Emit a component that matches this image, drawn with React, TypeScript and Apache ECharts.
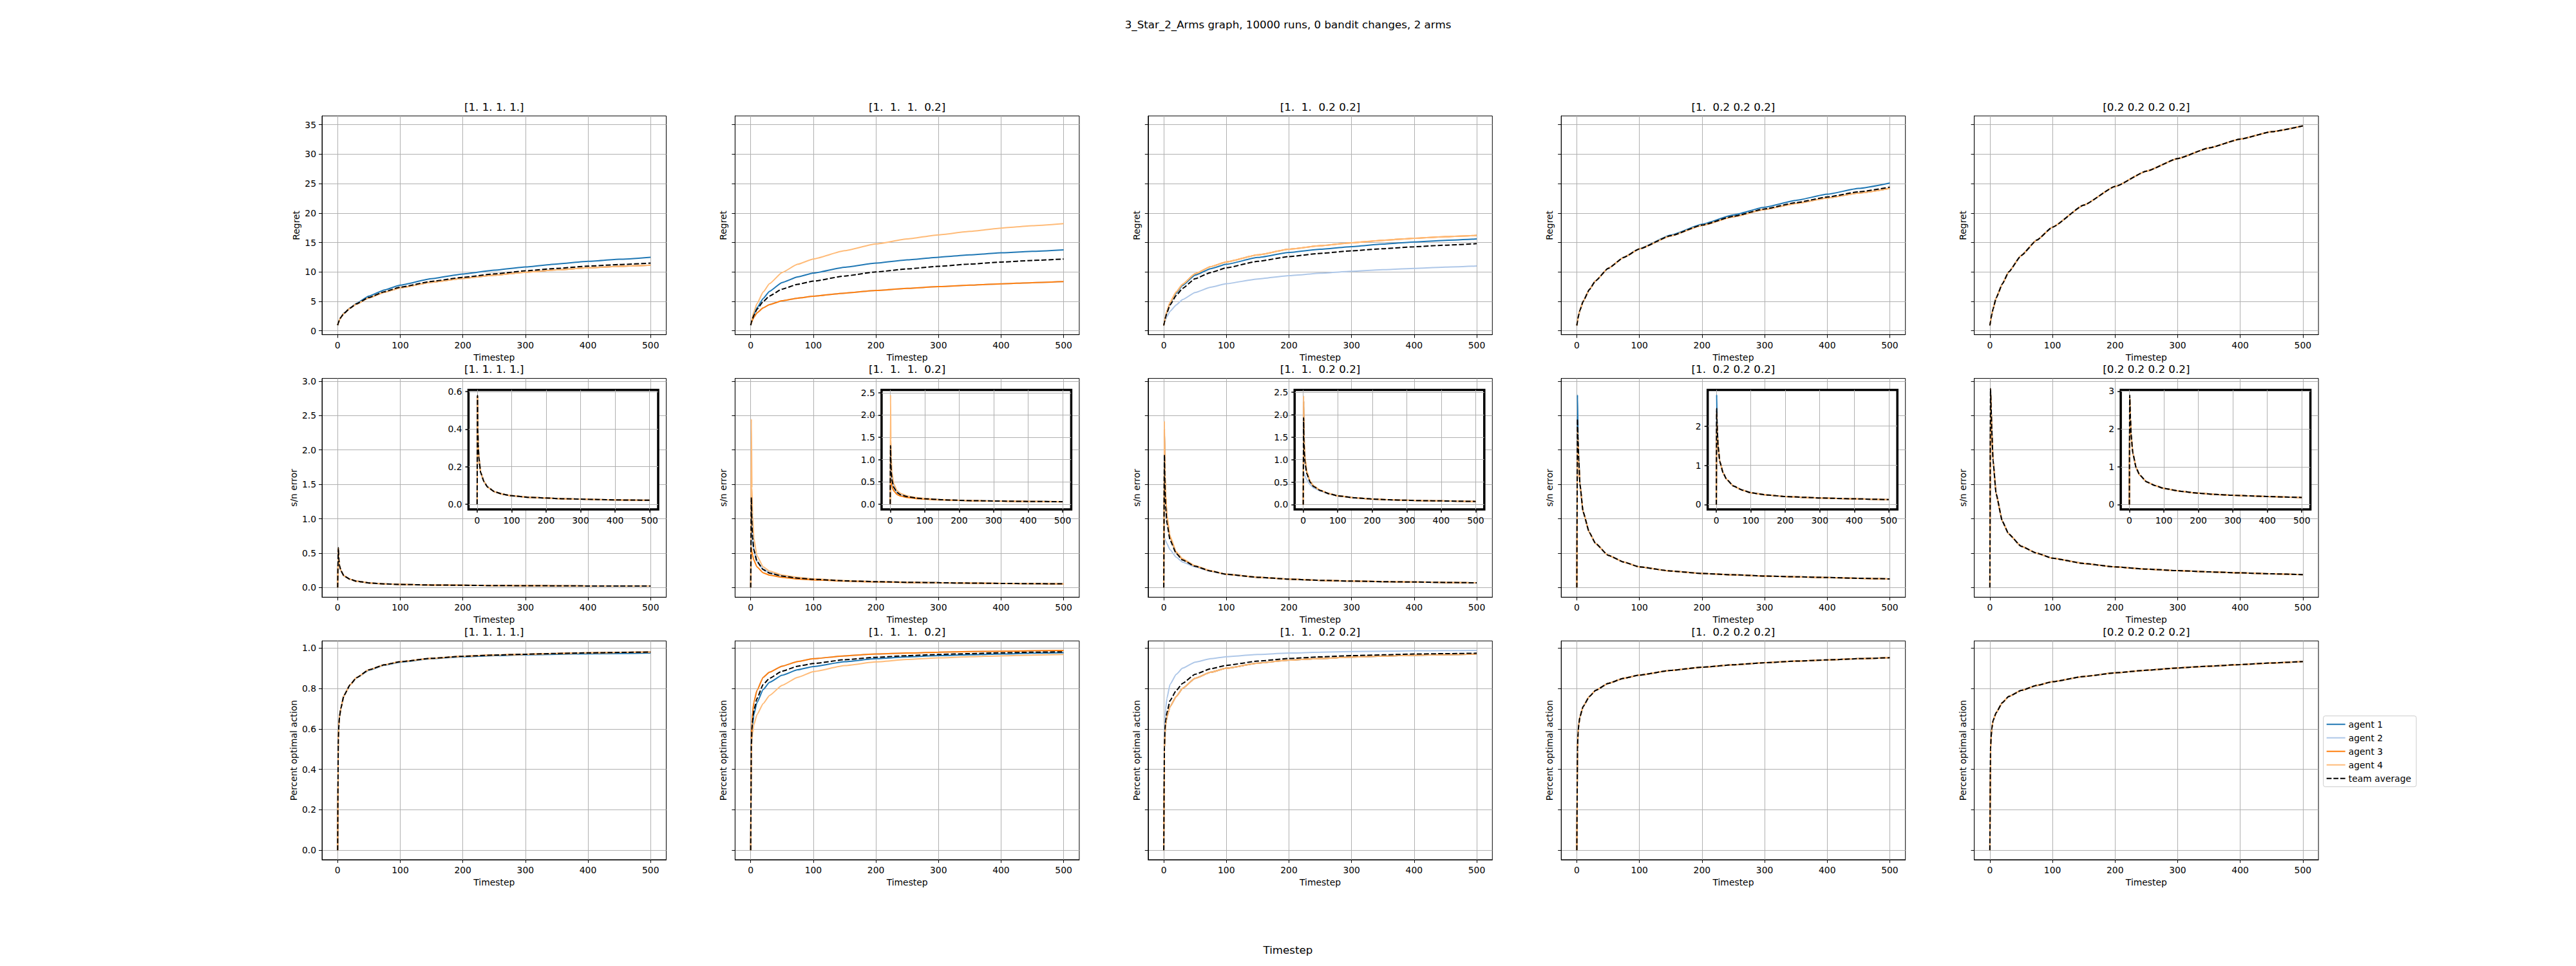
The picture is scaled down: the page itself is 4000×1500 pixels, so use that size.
import React, { useEffect, useRef } from 'react';
import * as echarts from 'echarts';

const FONT = 'DejaVu Sans';

// ---------- data ----------
const T = [0, 1, 2, 3, 5, 10, 20, 30, 50, 75, 100, 150, 200, 250, 300, 350, 400, 450, 500];
const X_TICKS = [0, 100, 200, 300, 400, 500];

const COL_TITLES = ['[1. 1. 1. 1.]', '[1.  1.  1.  0.2]', '[1.  1.  0.2 0.2]', '[1.  0.2 0.2 0.2]', '[0.2 0.2 0.2 0.2]'];
const SERIES_NAMES = ['agent 1', 'agent 2', 'agent 3', 'agent 4', 'team average'];
const ROW_YLABELS = ['Regret', 's/n error', 'Percent optimal action'];

// Row 1: Regret
const REG_C1_A1 = [0.95, 1.3, 1.6, 1.9, 2.3, 3.0, 3.9, 4.65, 5.9, 6.95, 7.75, 8.85, 9.65, 10.3, 10.85, 11.35, 11.8, 12.15, 12.5];
const REG_C1_LEAF = [0.95, 1.3, 1.6, 1.85, 2.25, 2.95, 3.85, 4.55, 5.6, 6.55, 7.3, 8.25, 8.9, 9.45, 9.95, 10.35, 10.7, 10.95, 11.15];
const REG_C1_AVG = [0.95, 1.3, 1.6, 1.86, 2.26, 2.96, 3.86, 4.58, 5.67, 6.65, 7.41, 8.4, 9.08, 9.66, 10.18, 10.6, 10.98, 11.25, 11.5];

const REG_C2_A1 = [0.95, 1.4, 1.8, 2.15, 2.75, 3.9, 5.5, 6.7, 8.2, 9.15, 9.8, 10.8, 11.5, 12.05, 12.5, 12.9, 13.25, 13.5, 13.75];
const REG_C2_A23 = [0.95, 1.3, 1.6, 1.85, 2.3, 3.05, 3.9, 4.45, 5.1, 5.55, 5.87, 6.4, 6.85, 7.2, 7.5, 7.75, 7.98, 8.18, 8.35];
const REG_C2_A4 = [0.95, 1.5, 2.0, 2.45, 3.2, 4.6, 6.6, 8.0, 9.9, 11.3, 12.2, 13.6, 14.75, 15.6, 16.3, 16.9, 17.45, 17.85, 18.2];
const REG_C2_AVG = [0.95, 1.38, 1.75, 2.08, 2.64, 3.65, 4.98, 5.9, 7.08, 7.9, 8.43, 9.3, 10.0, 10.51, 10.95, 11.33, 11.67, 11.95, 12.2];

const REG_C3_A1 = [0.9, 1.5, 2.0, 2.45, 3.2, 4.7, 6.4, 7.7, 9.45, 10.55, 11.3, 12.45, 13.3, 13.85, 14.3, 14.72, 15.1, 15.37, 15.6];
const REG_C3_A2 = [0.9, 1.3, 1.65, 1.95, 2.4, 3.3, 4.4, 5.3, 6.5, 7.4, 8.0, 8.8, 9.37, 9.77, 10.1, 10.37, 10.6, 10.82, 11.0];
const REG_C3_A34 = [0.9, 1.5, 2.0, 2.5, 3.3, 4.8, 6.6, 7.9, 9.7, 10.9, 11.7, 12.9, 13.85, 14.45, 14.95, 15.37, 15.72, 15.98, 16.2];
const REG_C3_AVG = [0.9, 1.45, 1.9, 2.35, 3.05, 4.4, 6.0, 7.2, 8.85, 9.9, 10.7, 11.8, 12.6, 13.15, 13.58, 13.95, 14.27, 14.55, 14.8];

const REG_C4_A1 = [0.9, 1.6, 2.2, 2.7, 3.5, 5.0, 7.0, 8.5, 10.6, 12.48, 13.95, 16.25, 18.1, 19.68, 21.0, 22.15, 23.2, 24.18, 25.1];
const REG_C4_REST = [0.9, 1.6, 2.2, 2.7, 3.5, 5.0, 7.0, 8.5, 10.6, 12.47, 13.9, 16.12, 17.9, 19.38, 20.6, 21.63, 22.55, 23.4, 24.2];
const REG_C4_AVG = [0.9, 1.6, 2.2, 2.7, 3.5, 5.0, 7.0, 8.5, 10.6, 12.47, 13.92, 16.15, 17.95, 19.45, 20.7, 21.76, 22.72, 23.6, 24.4];

const REG_C5_ALL = [0.9, 1.6, 2.2, 2.75, 3.69, 5.59, 7.99, 9.99, 12.79, 15.41, 17.61, 21.36, 24.51, 27.11, 29.26, 31.06, 32.56, 33.81, 34.8];

// Row 2: s/n error
const SN_C1_ALL = [0, 0.58, 0.4, 0.32, 0.25, 0.17, 0.12, 0.092, 0.067, 0.053, 0.045, 0.037, 0.033, 0.029, 0.027, 0.025, 0.023, 0.022, 0.021];

const SN_C2_A12 = [0, 1.1, 0.84, 0.69, 0.54, 0.38, 0.265, 0.215, 0.168, 0.138, 0.12, 0.098, 0.085, 0.076, 0.07, 0.065, 0.06, 0.057, 0.054];
const SN_C2_A3 = [0, 0.58, 0.52, 0.47, 0.4, 0.3, 0.215, 0.18, 0.148, 0.125, 0.112, 0.094, 0.082, 0.074, 0.068, 0.063, 0.059, 0.056, 0.053];
const SN_C2_A4 = [0, 2.45, 1.45, 1.05, 0.72, 0.46, 0.3, 0.24, 0.182, 0.148, 0.127, 0.101, 0.087, 0.078, 0.071, 0.066, 0.061, 0.058, 0.055];
const SN_C2_AVG = [0, 1.31, 0.91, 0.73, 0.55, 0.38, 0.26, 0.21, 0.167, 0.137, 0.12, 0.098, 0.085, 0.076, 0.07, 0.065, 0.06, 0.057, 0.054];

const SN_C3_A13 = [0, 2.3, 1.62, 1.33, 1.03, 0.73, 0.51, 0.41, 0.313, 0.242, 0.193, 0.149, 0.122, 0.105, 0.094, 0.086, 0.08, 0.074, 0.068];
const SN_C3_A2 = [0, 0.71, 0.7, 0.68, 0.64, 0.55, 0.44, 0.37, 0.3, 0.235, 0.19, 0.147, 0.121, 0.104, 0.093, 0.085, 0.079, 0.073, 0.067];
const SN_C3_A4 = [0, 2.42, 1.68, 1.37, 1.06, 0.75, 0.52, 0.42, 0.318, 0.245, 0.195, 0.15, 0.123, 0.106, 0.095, 0.087, 0.081, 0.075, 0.069];
const SN_C3_AVG = [0, 1.93, 1.41, 1.18, 0.94, 0.69, 0.495, 0.4, 0.31, 0.24, 0.193, 0.149, 0.122, 0.105, 0.094, 0.086, 0.08, 0.074, 0.068];

const SN_C4_A1 = [0, 2.8, 2.2, 1.9, 1.5, 1.1, 0.8, 0.64, 0.47, 0.37, 0.3, 0.24, 0.205, 0.185, 0.168, 0.156, 0.146, 0.135, 0.125];
const SN_C4_REST = [0, 2.33, 2.1, 1.85, 1.5, 1.1, 0.8, 0.64, 0.47, 0.37, 0.3, 0.24, 0.205, 0.185, 0.168, 0.156, 0.146, 0.135, 0.125];
const SN_C4_AVG = [0, 2.45, 2.12, 1.86, 1.5, 1.1, 0.8, 0.64, 0.47, 0.37, 0.3, 0.24, 0.205, 0.185, 0.168, 0.156, 0.146, 0.135, 0.125];

const SN_C5_ALL = [0, 2.89, 2.6, 2.3, 1.85, 1.36, 0.96, 0.78, 0.6, 0.5, 0.427, 0.35, 0.3, 0.268, 0.246, 0.228, 0.213, 0.2, 0.188];

// Row 3: percent optimal action
const POA_C1_A1 = [0, 0.55, 0.62, 0.66, 0.7, 0.765, 0.818, 0.852, 0.89, 0.915, 0.93, 0.947, 0.957, 0.962, 0.966, 0.969, 0.971, 0.973, 0.975];
const POA_C1_REST = [0, 0.55, 0.62, 0.66, 0.7, 0.765, 0.818, 0.853, 0.892, 0.917, 0.932, 0.949, 0.959, 0.965, 0.969, 0.973, 0.976, 0.978, 0.98];

const POA_C2_A23 = [0, 0.55, 0.63, 0.68, 0.73, 0.79, 0.855, 0.88, 0.91, 0.933, 0.947, 0.961, 0.97, 0.975, 0.979, 0.982, 0.984, 0.986, 0.988];
const POA_C2_A1 = [0, 0.5, 0.58, 0.62, 0.67, 0.73, 0.795, 0.83, 0.865, 0.892, 0.908, 0.932, 0.947, 0.956, 0.962, 0.966, 0.97, 0.974, 0.977];
const POA_C2_A4 = [0, 0.5, 0.55, 0.58, 0.62, 0.67, 0.725, 0.765, 0.815, 0.855, 0.883, 0.913, 0.931, 0.943, 0.951, 0.957, 0.961, 0.965, 0.968];
const POA_C2_AVG = [0, 0.52, 0.6, 0.64, 0.69, 0.75, 0.82, 0.85, 0.885, 0.91, 0.923, 0.942, 0.954, 0.962, 0.968, 0.972, 0.976, 0.979, 0.981];

const POA_C3_A2 = [0, 0.55, 0.65, 0.7, 0.75, 0.82, 0.87, 0.9, 0.93, 0.947, 0.957, 0.968, 0.975, 0.979, 0.982, 0.984, 0.986, 0.987, 0.988];
const POA_C3_REST = [0, 0.5, 0.58, 0.62, 0.66, 0.71, 0.76, 0.8, 0.85, 0.88, 0.9, 0.925, 0.94, 0.948, 0.955, 0.96, 0.964, 0.967, 0.97];
const POA_C3_AVG = [0, 0.51, 0.6, 0.64, 0.68, 0.74, 0.79, 0.825, 0.87, 0.897, 0.914, 0.935, 0.948, 0.956, 0.962, 0.966, 0.97, 0.972, 0.974];

const POA_C4_ALL = [0, 0.5, 0.58, 0.62, 0.66, 0.71, 0.76, 0.79, 0.825, 0.85, 0.866, 0.889, 0.905, 0.917, 0.927, 0.935, 0.941, 0.947, 0.952];
const POA_C5_ALL = [0, 0.5, 0.56, 0.6, 0.64, 0.68, 0.73, 0.76, 0.79, 0.815, 0.833, 0.859, 0.877, 0.89, 0.901, 0.91, 0.918, 0.926, 0.933];

const PANELS: number[][][][] = [
  [
    [REG_C1_A1, REG_C1_LEAF, REG_C1_LEAF, REG_C1_LEAF, REG_C1_AVG],
    [REG_C2_A1, REG_C2_A23, REG_C2_A23, REG_C2_A4, REG_C2_AVG],
    [REG_C3_A1, REG_C3_A2, REG_C3_A34, REG_C3_A34, REG_C3_AVG],
    [REG_C4_A1, REG_C4_REST, REG_C4_REST, REG_C4_REST, REG_C4_AVG],
    [REG_C5_ALL, REG_C5_ALL, REG_C5_ALL, REG_C5_ALL, REG_C5_ALL],
  ],
  [
    [SN_C1_ALL, SN_C1_ALL, SN_C1_ALL, SN_C1_ALL, SN_C1_ALL],
    [SN_C2_A12, SN_C2_A12, SN_C2_A3, SN_C2_A4, SN_C2_AVG],
    [SN_C3_A13, SN_C3_A2, SN_C3_A13, SN_C3_A4, SN_C3_AVG],
    [SN_C4_A1, SN_C4_REST, SN_C4_REST, SN_C4_REST, SN_C4_AVG],
    [SN_C5_ALL, SN_C5_ALL, SN_C5_ALL, SN_C5_ALL, SN_C5_ALL],
  ],
  [
    [POA_C1_A1, POA_C1_REST, POA_C1_REST, POA_C1_REST, POA_C1_REST],
    [POA_C2_A1, POA_C2_A23, POA_C2_A23, POA_C2_A4, POA_C2_AVG],
    [POA_C3_REST, POA_C3_A2, POA_C3_REST, POA_C3_REST, POA_C3_AVG],
    [POA_C4_ALL, POA_C4_ALL, POA_C4_ALL, POA_C4_ALL, POA_C4_ALL],
    [POA_C5_ALL, POA_C5_ALL, POA_C5_ALL, POA_C5_ALL, POA_C5_ALL],
  ],
];

const ROW_Y_TICKS = [
  [0, 5, 10, 15, 20, 25, 30, 35],
  [0, 0.5, 1.0, 1.5, 2.0, 2.5, 3.0],
  [0, 0.2, 0.4, 0.6, 0.8, 1.0],
];
const ROW_Y_RANGE = [
  [-0.66, 36.5],
  [-0.14, 3.04],
  [-0.047, 1.035],
];
const ROW_Y_DECIMALS = [0, 1, 1];

const INSET_Y_TICKS = [
  [0, 0.2, 0.4, 0.6],
  [0, 0.5, 1.0, 1.5, 2.0, 2.5],
  [0, 0.5, 1.0, 1.5, 2.0, 2.5],
  [0, 1, 2],
  [0, 1, 2, 3],
];
const INSET_Y_RANGE = [
  [-0.028, 0.609],
  [-0.12, 2.56],
  [-0.11, 2.55],
  [-0.126, 2.92],
  [-0.13, 3.03],
];
const INSET_Y_DECIMALS = [1, 1, 1, 0, 0];

// ---------- styling / layout ----------
const COLORS = ['#1f77b4', '#aec7e8', '#ff7f0e', '#ffbb78', '#000000'];
const COL_LEFT0 = 500;
const COL_STEP = 641.4;
const AX_W = 534.5;
const ROW_TOP0 = 180;
const ROW_STEP = 407.6;
const AX_H = 339.7;
const INSET_DX = 227.5;
const INSET_DY = 18;
const INSET_W = 294.5;
const INSET_H = 185.5;

const DASH_ICON = 'path://M0,0h8v2h-8z M11,0h8v2h-8z M22,0h8v2h-8z';

function buildOption() {
  const grid: any[] = [];
  const xAxis: any[] = [];
  const yAxis: any[] = [];
  const series: any[] = [];
  const graphic: any[] = [];
  const tickFont = { color: '#000', fontSize: 13.9, fontFamily: FONT };

  const mkSeries = (data: number[], k: number, axisIdx: number, z: number) => ({
    type: 'line',
    name: SERIES_NAMES[k],
    xAxisIndex: axisIdx,
    yAxisIndex: axisIdx,
    data: T.map((t, i) => [t, data[i]]),
    showSymbol: false,
    symbol: 'none',
    smooth: 0.15,
    smoothMonotone: 'x',
    z,
    silent: true,
    color: COLORS[k],
    lineStyle: {
      color: COLORS[k],
      width: 2,
      type: k === 4 ? [7.7, 3.3] : 'solid',
    },
    itemStyle: { color: COLORS[k] },
  });

  for (let r = 0; r < 3; r++) {
    for (let c = 0; c < 5; c++) {
      const idx = r * 5 + c;
      const left = COL_LEFT0 + COL_STEP * c;
      const top = ROW_TOP0 + ROW_STEP * r;
      grid.push({
        left, top, width: AX_W, height: AX_H,
        show: true, borderColor: '#000', borderWidth: 1, backgroundColor: '#fff',
        containLabel: false, outerBoundsMode: 'none', z: 0,
      });
      xAxis.push({
        type: 'value', gridIndex: idx, min: -25, max: 525,
        axisLine: { show: true, onZero: false, lineStyle: { color: '#000', width: 1 } },
        axisTick: { show: true, length: 5, customValues: X_TICKS, lineStyle: { color: '#000', width: 1 } },
        axisLabel: { show: true, customValues: X_TICKS, margin: 9, ...tickFont },
        splitLine: { show: true, lineStyle: { color: '#b0b0b0', width: 1 } },
        name: 'Timestep', nameLocation: 'middle', nameGap: 28,
        nameTextStyle: { color: '#000', fontSize: 13.9, fontFamily: FONT },
      });
      const dec = ROW_Y_DECIMALS[r];
      yAxis.push({
        type: 'value', gridIndex: idx, min: ROW_Y_RANGE[r][0], max: ROW_Y_RANGE[r][1],
        axisLine: { show: true, onZero: false, lineStyle: { color: '#000', width: 1 } },
        axisTick: { show: true, length: 5, customValues: ROW_Y_TICKS[r], lineStyle: { color: '#000', width: 1 } },
        axisLabel: {
          show: c === 0, customValues: ROW_Y_TICKS[r], margin: 9, ...tickFont,
          formatter: (v: number) => v.toFixed(dec),
        },
        splitLine: { show: true, lineStyle: { color: '#b0b0b0', width: 1 } },
        name: ROW_YLABELS[r], nameLocation: 'middle', nameRotate: 90,
        nameGap: c === 0 ? (r === 0 ? 33 : 37) : 11,
        nameTextStyle: { color: '#000', fontSize: 13.9, fontFamily: FONT },
      });
      const panel = PANELS[r][c];
      for (let k = 0; k < 5; k++) series.push(mkSeries(panel[k], k, idx, 2));

      graphic.push({
        type: 'text', x: left + AX_W / 2, y: top - 14.3, silent: true,
        style: {
          text: COL_TITLES[c], fill: '#000', fontSize: 16.7, fontFamily: FONT,
          textAlign: 'center', textVerticalAlign: 'middle', align: 'center', verticalAlign: 'middle',
        },
      });
    }
  }

  // insets on row 2
  for (let c = 0; c < 5; c++) {
    const idx = 15 + c;
    const left = COL_LEFT0 + COL_STEP * c + INSET_DX;
    const top = ROW_TOP0 + ROW_STEP + INSET_DY;
    grid.push({
      left, top, width: INSET_W, height: INSET_H,
      show: true, borderColor: '#000', borderWidth: 3.5, backgroundColor: '#fff',
      containLabel: false, outerBoundsMode: 'none', z: 10,
    });
    xAxis.push({
      type: 'value', gridIndex: idx, min: -25, max: 525, z: 11,
      axisLine: { show: false, onZero: false },
      axisTick: { show: true, length: 5, customValues: X_TICKS, lineStyle: { color: '#000', width: 1.5 } },
      axisLabel: { show: true, customValues: X_TICKS, margin: 10, ...tickFont },
      splitLine: { show: true, lineStyle: { color: '#b0b0b0', width: 1 } },
    });
    const dec = INSET_Y_DECIMALS[c];
    yAxis.push({
      type: 'value', gridIndex: idx, min: INSET_Y_RANGE[c][0], max: INSET_Y_RANGE[c][1], z: 11,
      axisLine: { show: false, onZero: false },
      axisTick: { show: true, length: 5, customValues: INSET_Y_TICKS[c], lineStyle: { color: '#000', width: 1.5 } },
      axisLabel: {
        show: true, customValues: INSET_Y_TICKS[c], margin: 10, ...tickFont,
        formatter: (v: number) => v.toFixed(dec),
      },
      splitLine: { show: true, lineStyle: { color: '#b0b0b0', width: 1 } },
    });
    const panel = PANELS[1][c];
    for (let k = 0; k < 5; k++) series.push(mkSeries(panel[k], k, idx, 12));
  }

  graphic.push({
    type: 'text', x: 2000, y: 38.3, silent: true,
    style: {
      text: '3_Star_2_Arms graph, 10000 runs, 0 bandit changes, 2 arms', fill: '#000',
      fontSize: 16.7, fontFamily: FONT,
      textAlign: 'center', textVerticalAlign: 'middle', align: 'center', verticalAlign: 'middle',
    },
  });
  graphic.push({
    type: 'text', x: 2000, y: 1474.5, silent: true,
    style: {
      text: 'Timestep', fill: '#000', fontSize: 16.7, fontFamily: FONT,
      textAlign: 'center', textVerticalAlign: 'middle', align: 'center', verticalAlign: 'middle',
    },
  });

  return {
    animation: false,
    backgroundColor: '#ffffff',
    textStyle: { fontFamily: FONT },
    grid, xAxis, yAxis, series, graphic,
    legend: {
      show: true,
      orient: 'vertical',
      left: 3607.7,
      top: 1111.7,
      data: SERIES_NAMES.map((n, i) => ({
        name: n,
        icon: i === 4 ? DASH_ICON : 'rect',
        itemStyle: { color: COLORS[i], borderWidth: 0 },
      })),
      itemWidth: 29,
      itemHeight: 2,
      itemGap: 5,
      padding: [5, 8, 5, 5],
      borderColor: '#cccccc',
      borderWidth: 1,
      borderRadius: 3,
      backgroundColor: 'rgba(255,255,255,0.8)',
      selectedMode: false,
      textStyle: { color: '#000', fontSize: 13.9, fontFamily: FONT, lineHeight: 16 },
      z: 20,
    },
  };
}

export default function App() {
  const ref = useRef<HTMLDivElement>(null);
  useEffect(() => {
    document.body.style.margin = '0';
    if (!ref.current) return;
    const chart = echarts.init(ref.current, undefined, { renderer: 'svg', width: 4000, height: 1500 });
    chart.setOption(buildOption() as any);
    return () => chart.dispose();
  }, []);
  return (
    <div
      ref={ref}
      style={{ position: 'fixed', left: 0, top: 0, width: 4000, height: 1500, background: '#fff' }}
    />
  );
}
